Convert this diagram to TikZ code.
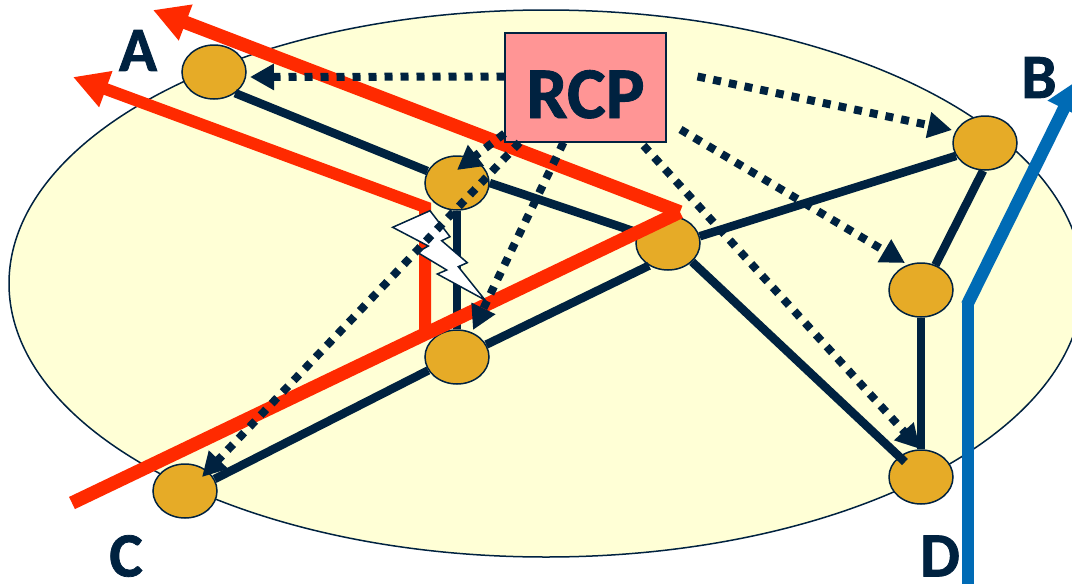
\documentclass[tikz,border=0pt]{standalone}
\usepackage{fontspec}
\setmainfont{Carlito}
\newfontfamily\heavyfont[FakeBold=1.2]{Carlito Bold}
\usetikzlibrary{shapes.geometric,arrows.meta,calc}
\definecolor{navy}{HTML}{002240}
\definecolor{pale}{HTML}{FFFFD6}
\definecolor{gold}{HTML}{E6AB27}
\definecolor{redline}{HTML}{FF2A00}
\definecolor{blueline}{HTML}{006BB5}
\definecolor{rcpfill}{HTML}{FF9595}
\tikzset{
  router/.style={ellipse,draw=navy,line width=1.5pt,fill=gold,minimum width=64pt,minimum height=54pt,inner sep=0pt},
  letter/.style={text=navy,font=\fontsize{63}{63}\heavyfont,inner sep=0pt},
  link/.style={draw=navy,line width=8.5pt},
  ctrl/.style={draw=navy,line width=8pt,dash pattern=on 8pt off 8pt,-{Triangle[length=24pt,width=25pt]}},
  redpath/.style={draw=redline,line width=13.5pt},
  redarrow/.style={redpath,-{Triangle[length=35pt,width=36pt]}},
  bluepath/.style={draw=blueline,line width=12.5pt}
}
\begin{document}
\begin{tikzpicture}[x=1pt,y=-1pt]
\clip (0,0) rectangle (1072,584);
\fill[white] (0,0) rectangle (1072,584);
\node[ellipse,draw=navy,line width=1.5pt,fill=pale,minimum width=1074pt,minimum height=547pt,inner sep=0pt] (net) at (546,283.5) {};
% routers
\node[router] (A) at (214,72) {};
\node[router] (T) at (457,183) {};
\node[router] (O) at (668,243) {};
\node[router] (B) at (985,143) {};
\node[router] (R) at (921,290) {};
\node[router] (L) at (457,357) {};
\node[router] (C) at (185,491) {};
\node[router] (D) at (921,477) {};
% links
\draw[link] (A.-45) -- (T.158);
\draw[link] (T.0) -- (O.161);
\draw[link] (O.12) -- (B.204);
\draw[link] (B.266) -- (R.60);
\draw[link] (R.south) -- (D.north);
\draw[link] (T.south) -- (L.north);
\draw[link] (O.230) -- (L.23);
\draw[link] (L.205) -- (C.22);
\draw[link] (O.-38) -- ($(D)+(-16,-15)$);
% labels
\node[letter] (la) at (138,50.5) {A};
\node[letter] (lb) at (1039,77.5) {B};
\node[letter] (lc) at (126,556) {C};
\node[letter] (ld) at (940,556) {D};
% red paths
\coordinate (apex) at (680,212);
\coordinate (tipone) at (153,10);
\coordinate (tiptwo) at (73,77);
\coordinate (tail) at (72,503);
\coordinate (bend) at (425,207);
\coordinate (foot) at (425,330);
\draw[redarrow] (apex) -- (tipone);
\draw[redpath] (tail) -- (apex);
\draw[redarrow,line width=12pt,line join=miter] (foot) -- (bend) -- (tiptwo);
% blue path
\coordinate (bluebase) at (968,584);
\coordinate (bluebendv) at (968,303);
\coordinate (bluebendd) at (968,303);
\coordinate (bluetip) at (1078,80);
\draw[bluepath] (bluebase) -- (bluebendv);
\draw[bluepath,-{Triangle[length=32pt,width=34pt]}] ($(bluebendd)+(-1,2)$) -- (bluetip);
% lightning
\fill[white,draw=navy,line width=1.5pt,line join=miter]
  (430,210.7) -- (392.7,227.3) -- (428.3,246) -- (417.3,252.3) -- (446.7,270) -- (437.3,274)
  -- (485,300) -- (458.3,266.7) -- (467.3,262.7) -- (441.7,240.7) -- (450,236.7) -- cycle;
% RCP
\node[draw=navy,line width=2pt,fill=rcpfill,minimum width=161pt,minimum height=109pt,inner sep=0pt,text=navy,font=\fontsize{73}{73}\heavyfont] (RCP) at (585.5,87.5) {\raisebox{-30.5pt}[0pt][0pt]{RCP}};
% control arrows
\draw[ctrl] ($(RCP)+(-81,-11)$) -- ($(A)+(36,5)$);
\draw[ctrl] ($(RCP)+(112,-11)$) -- ($(B)+(-33,-13)$);
\draw[ctrl] ($(RCP)+(95,42)$) -- ($(R)+(-16,-27)$);
\draw[ctrl] ($(RCP)+(58,58)$) -- ($(D)+(-1,-28)$);
\draw[ctrl] ($(RCP)+(-81,46)$) -- ($(T)+(0,-13)$);
\draw[ctrl] ($(RCP)+(-22,55)$) -- ($(L)+(16,-27)$);
\draw[ctrl] ($(RCP)+(-66,55)$) -- ($(C)+(17,-14)$);
\end{tikzpicture}
\end{document}
